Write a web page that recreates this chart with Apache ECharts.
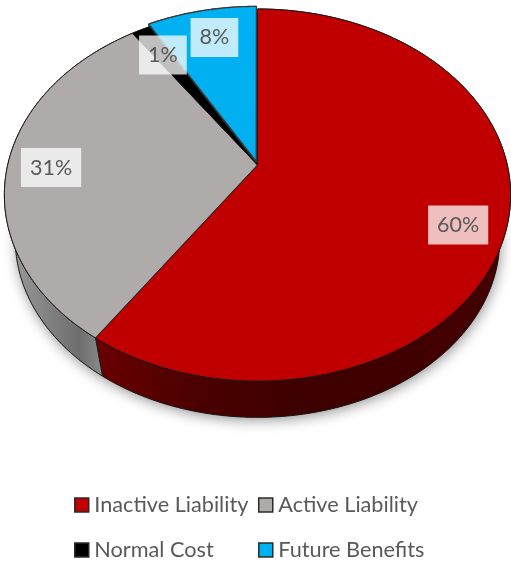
<!DOCTYPE html>
<html>
<head>
<meta charset="utf-8">
<style>html,body{margin:0;padding:0;background:#fff}#chart{width:511px;height:561px}</style>
<script src="https://cdn.jsdelivr.net/npm/echarts@6/dist/echarts.min.js"></script>
</head>
<body>
<div id="chart"></div>
<script>
// Share of plan liabilities, in percent, clockwise from twelve o'clock.
const categories = ['Inactive Liability', 'Active Liability', 'Normal Cost', 'Future Benefits'];
const shares = [59.5, 30.9, 1.4, 8.2];
const percentLabels = ['60%', '31%', '1%', '8%'];

const faceColors = ['#C00000', '#AFABAB', '#000000', '#00B0F0'];
// Label offset in pixels from the slice's rim point on its bisector.
const labelNudge = [[-50, 4], [43.5, 2], [22, 25], [12, 24]];
// Slices pulled out from the centre, in disc units.
const explode = [0, 0, 0, 0.02];

// Perspective view of a flat disc: the near edge is drawn larger than the far edge.
const view = { cx: 257.5, cy: 165, sx: 249.8, sy: 181.2, k: 0.1613 };
const floor = { cy: 210.6, scale: 0.957 };

function project(u, v, lower) {
  const d = 1 - view.k * v;
  const x = view.sx * u / d;
  const y = view.sy * v / d;
  return lower
    ? [view.cx + floor.scale * x, floor.cy + floor.scale * y]
    : [view.cx + x, view.cy + y];
}

function rim(a0, a1, off, lower) {
  const pts = [];
  const steps = Math.max(4, Math.ceil(Math.abs(a1 - a0) / 0.01));
  for (let i = 0; i <= steps; i++) {
    const a = a0 + (a1 - a0) * i / steps;
    pts.push(project(off[0] + Math.sin(a), off[1] - Math.cos(a), lower));
  }
  return pts;
}

const total = shares.reduce((s, v) => s + v, 0);
const TAU = Math.PI * 2;
const wallFills = [
  new echarts.graphic.LinearGradient(95, 0, 500, 0, [
    { offset: 0, color: '#6a0000' }, { offset: 0.25, color: '#4b0000' },
    { offset: 0.5, color: '#3e0000' }, { offset: 1, color: '#440000' }
  ], true),
  new echarts.graphic.LinearGradient(13, 0, 102, 0, [
    { offset: 0, color: '#989898' }, { offset: 0.75, color: '#6e6e6e' },
    { offset: 1, color: '#8a8a8a' }
  ], true),
  '#000000', '#007aa8'
];

function renderSlice(params, api) {
  const i = params.seriesIndex;
  const before = shares.slice(0, i).reduce((s, v) => s + v, 0);
  const a0 = before / total * TAU;
  const a1 = a0 + api.value(0) / total * TAU;
  const mid = (a0 + a1) / 2;
  const off = [Math.sin(mid) * explode[i], -Math.cos(mid) * explode[i]];
  const edge = { stroke: '#1a1a1a', lineWidth: 1, lineJoin: 'round' };
  const children = [];

  if (i === 0) {
    // Full lower disc carries the soft shadow under the whole pie.
    children.push({
      type: 'polygon', z2: 0, silent: true,
      shape: { points: rim(0, TAU, [0, 0], true) },
      style: { fill: '#400000', shadowColor: 'rgba(0,0,0,0.42)', shadowBlur: 13, shadowOffsetX: 1, shadowOffsetY: 3 }
    });
  }
  const topRim = rim(a0, a1, off, false);
  const lowRim = rim(a0, a1, off, true).reverse();
  children.push({
    type: 'polygon', z2: 1, silent: true,
    shape: { points: topRim.concat(lowRim) },
    style: Object.assign({ fill: wallFills[i] }, edge)
  });
  children.push({
    type: 'polygon', z2: 10 + i, silent: true,
    shape: { points: [project(off[0], off[1], false)].concat(topRim) },
    style: Object.assign({ fill: faceColors[i] }, edge, i === 3 ? { stroke: '#3a3a3a', lineWidth: 1.3 } : {})
  });
  const anchor = project(Math.sin(mid), -Math.cos(mid), false);
  children.push({
    type: 'text', z2: 30, silent: true,
    style: {
      x: anchor[0] + labelNudge[i][0], y: anchor[1] + labelNudge[i][1],
      text: percentLabels[i], align: 'center', verticalAlign: 'middle',
      font: '21.5px Lato', fill: '#595959',
      backgroundColor: 'rgba(255,255,255,0.75)', padding: [8.5, 9, 8.5, 9]
    }
  });
  return { type: 'group', children };
}

const legendBase = {
  orient: 'vertical', top: 494, height: 90, itemWidth: 14, itemHeight: 14, itemGap: 23,
  icon: 'rect', selectedMode: false, padding: 0,
  textStyle: { color: '#595959', fontFamily: 'Lato', fontSize: 21.7, padding: [0, 0, 0, 0.5] },
  itemStyle: { borderColor: '#2b2b2b', borderWidth: 1.5 }
};

const chart = echarts.init(document.getElementById('chart'), null, { renderer: 'canvas' });
chart.setOption({
  animation: false,
  backgroundColor: '#ffffff',
  legend: [
    Object.assign({}, legendBase, { left: 74, data: [categories[0], categories[2]] }),
    Object.assign({}, legendBase, { left: 258, data: [categories[1], categories[3]] })
  ],
  series: categories.map((name, i) => ({
    type: 'custom', name, coordinateSystem: 'none', silent: true,
    itemStyle: { color: faceColors[i] },
    data: [[shares[i]]],
    renderItem: renderSlice
  }))
});
</script>
</body>
</html>
